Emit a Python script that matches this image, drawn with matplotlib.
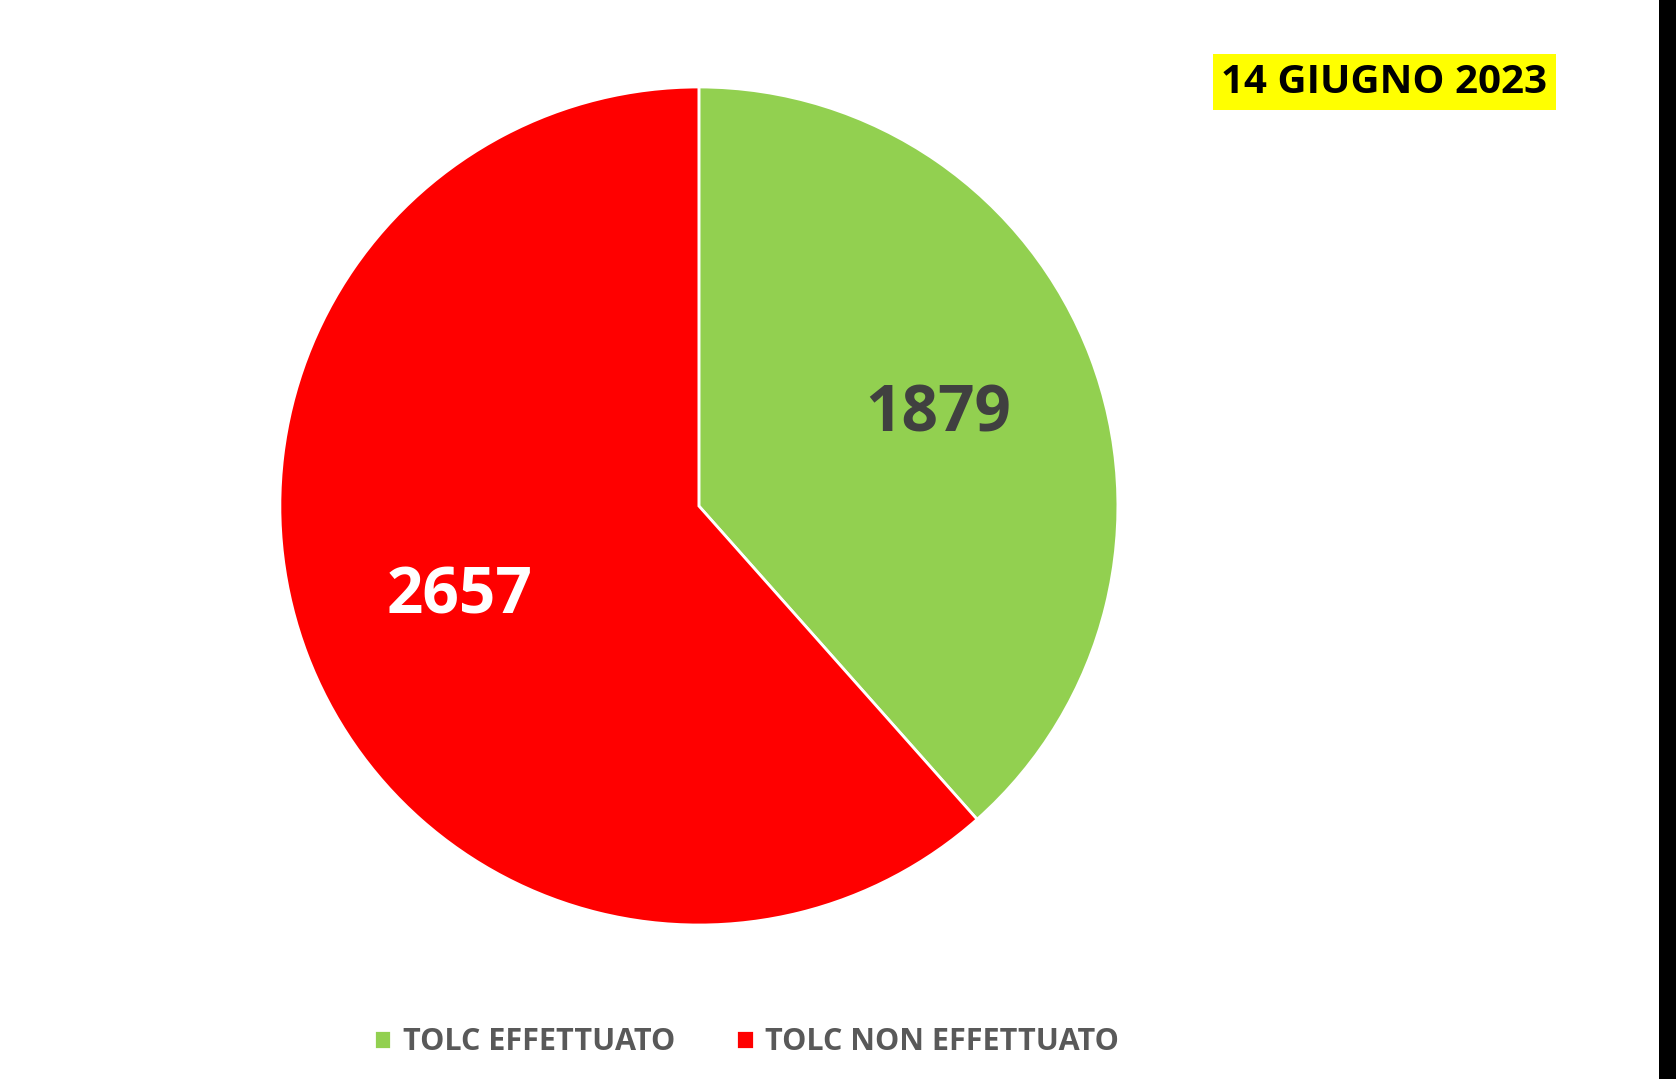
import matplotlib.pyplot as plt
from matplotlib.patches import Rectangle

# dati
categorie = ['TOLC EFFETTUATO', 'TOLC NON EFFETTUATO']
valori = [1879, 2657]
# ampiezza degli spicchi (gradi), non proporzionale alle etichette
gradi_spicchi = [138.4, 221.6]
colori = ['#92D050', '#FF0000']
colori_etichette = ['#404040', 'white']
titolo = '14 GIUGNO 2023'

plt.rcParams['font.family'] = ['Open Sans', 'DejaVu Sans']

fig = plt.figure(figsize=(16.76, 10.79), dpi=100)
ax = fig.add_axes([0.167, 0.1427, 0.5, 0.7767])

wedges, texts, autotexts = ax.pie(gradi_spicchi, colors=colori, startangle=90, counterclock=False,
                                  autopct='%d', pctdistance=0.61,
                                  wedgeprops=dict(edgecolor='white', linewidth=2))
for t, v, c in zip(autotexts, valori, colori_etichette):
    t.set_text(str(v))
    t.set_color(c)
    t.set_fontsize(46)
    t.set_fontweight('bold')
ax.set_xlim(-1, 1)
ax.set_ylim(-1, 1)
ax.set_aspect('equal')

# legenda in basso
leg = fig.legend(wedges, categorie, loc='center', bbox_to_anchor=(0.4455, 0.034), ncol=2,
                 frameon=False, handlelength=0.56, handleheight=0.56, handletextpad=0.38,
                 columnspacing=2.0, prop=dict(size=22, weight='bold'))
for t in leg.get_texts():
    t.set_color('#595959')

# data in alto a destra
fig.text(0.826, 0.924, titolo, ha='center', va='center', fontsize=29, fontweight='bold',
         color='black', bbox=dict(facecolor='#FFFF00', edgecolor='none', pad=6))

# barra nera sul bordo destro
fig.patches.append(Rectangle((0.9899, 0), 0.0101, 1, transform=fig.transFigure,
                             facecolor='black', edgecolor='none'))

fig.savefig('out.png', dpi=100, facecolor='white')
